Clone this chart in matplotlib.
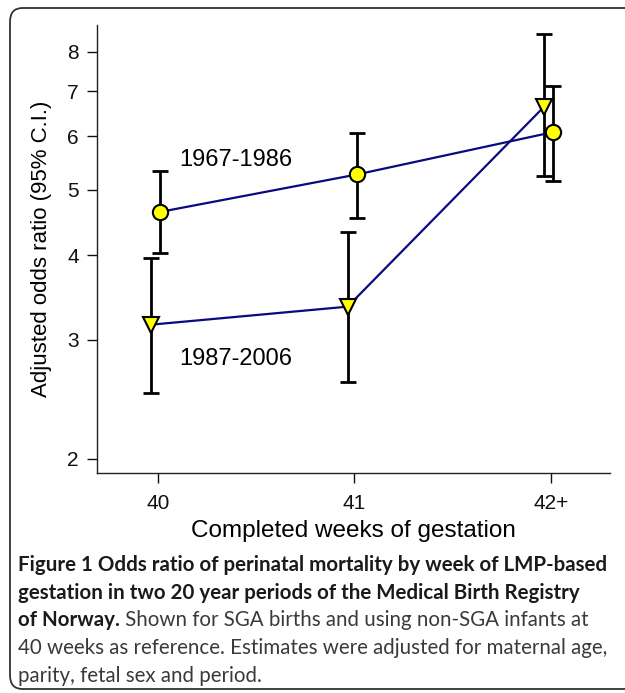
import matplotlib
matplotlib.use("Agg")
import matplotlib.pyplot as plt
from matplotlib.patches import FancyBboxPatch
from matplotlib.ticker import FixedLocator, NullLocator, FixedFormatter

# data
weeks = ["40", "41", "42+"]
period_labels = ["1967-1986", "1987-2006"]

or_early = [4.64, 5.27, 6.09]
lo_early = [4.03, 4.54, 5.16]
hi_early = [5.33, 6.08, 7.12]

or_late = [3.16, 3.36, 6.64]
lo_late = [2.50, 2.60, 5.24]
hi_late = [3.97, 4.34, 8.49]

y_ticks = [2, 3, 4, 5, 6, 7, 8]

plt.rcParams["font.family"] = ["Liberation Sans", "DejaVu Sans"]

fig = plt.figure(figsize=(6.25, 6.93), dpi=100)
ax = fig.add_axes([0.1552, 0.3175, 0.976 - 0.1552, 0.964 - 0.3175])

xpos = list(range(len(weeks)))
x_early = [x + 0.012 for x in xpos]
x_late = [x - 0.035 for x in xpos]


def draw_series(xs, vals, lo, hi, marker):
    err = [[v - l for v, l in zip(vals, lo)], [h - v for v, h in zip(vals, hi)]]
    ax.errorbar(xs, vals, yerr=err, fmt="none", ecolor="black", elinewidth=2.0,
                capsize=5.5, capthick=2.0, zorder=2)
    ax.plot(xs, vals, color="#0a0a80", linewidth=1.6, zorder=3)
    ax.plot(xs, vals, linestyle="none", marker=marker, markersize=11 if marker == "o" else 12,
            markerfacecolor="#ffff00", markeredgecolor="black", markeredgewidth=1.5, zorder=4)


draw_series(x_early, or_early, lo_early, hi_early, "o")
draw_series(x_late, or_late, lo_late, hi_late, "v")

ax.text(0.11, 5.53, period_labels[0], fontsize=17, va="center", ha="left")
ax.text(0.11, 2.81, period_labels[1], fontsize=17, va="center", ha="left")

ax.set_yscale("log")
ax.set_ylim(1.907, 8.77)
ax.set_xlim(-0.31, 2.3)
ax.yaxis.set_major_locator(FixedLocator(y_ticks))
ax.yaxis.set_major_formatter(FixedFormatter([str(t) for t in y_ticks]))
ax.yaxis.set_minor_locator(NullLocator())
ax.set_xticks(xpos)
ax.set_xticklabels(weeks)

for side in ["top", "right"]:
    ax.spines[side].set_visible(False)
for side in ["left", "bottom"]:
    ax.spines[side].set_linewidth(1.0)
    ax.spines[side].set_color("#222222")

ax.tick_params(axis="both", direction="out", length=7, width=1.0, labelsize=15, colors="#111111")
ax.tick_params(axis="y", pad=6)
ax.tick_params(axis="x", pad=8)

ax.set_xlabel("Completed weeks of gestation", fontsize=17.5, labelpad=5)
ax.set_ylabel("Adjusted odds ratio (95% C.I.)", fontsize=16, labelpad=11)

# rounded frame around the whole figure
frame = FancyBboxPatch((10 / 625, 4 / 693), 1.2, 1 - 12 / 693,
                       boxstyle="round,pad=0,rounding_size=0.02",
                       transform=fig.transFigure, fill=False,
                       edgecolor="#333333", linewidth=1.3, clip_on=False)
fig.patches.append(frame)

# caption
cap_font = ["Lato", "DejaVu Sans"]
cap_size = 14.8
x0 = 18 / 625
line_y = [565, 593, 626, 648, 676]
fig.text(x0, 1 - line_y[0] / 693,
         "Figure 1 Odds ratio of perinatal mortality by week of LMP-based",
         fontsize=cap_size, fontweight="bold", family=cap_font, va="center", color="#1a1a1a")
fig.text(x0, 1 - line_y[1] / 693,
         "gestation in two 20 year periods of the Medical Birth Registry",
         fontsize=cap_size, fontweight="bold", family=cap_font, va="center", color="#1a1a1a")
t_bold = fig.text(x0, 1 - line_y[2] / 693, "of Norway.",
                  fontsize=cap_size, fontweight="bold", family=cap_font, va="baseline",
                  color="#1a1a1a")
fig.canvas.draw()
ax.annotate(" Shown for SGA births and using non-SGA infants at",
            xy=(1, 0), xycoords=t_bold, va="bottom", ha="left",
            fontsize=cap_size, family=cap_font, fontweight="normal", color="#3a3a3a",
            annotation_clip=False)
fig.text(x0, 1 - line_y[3] / 693,
         "40 weeks as reference. Estimates were adjusted for maternal age,",
         fontsize=cap_size, fontweight="normal", family=cap_font, va="center", color="#3a3a3a")
fig.text(x0, 1 - line_y[4] / 693,
         "parity, fetal sex and period.",
         fontsize=cap_size, fontweight="normal", family=cap_font, va="center", color="#3a3a3a")

fig.savefig("out.png", dpi=100)
